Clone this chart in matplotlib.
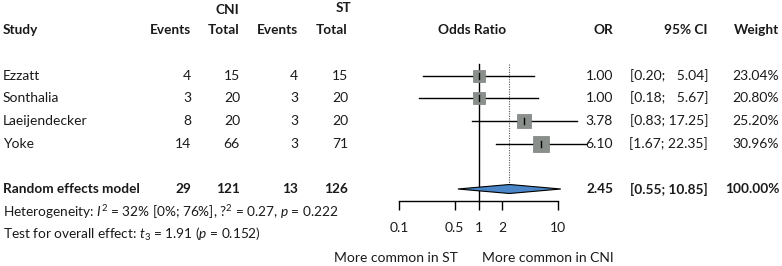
import numpy as np
import matplotlib
matplotlib.use('Agg')
import matplotlib.pyplot as plt

plt.rcParams['font.family'] = ['Lato', 'DejaVu Sans']
plt.rcParams['mathtext.fontset'] = 'custom'
plt.rcParams['mathtext.rm'] = 'Lato'
plt.rcParams['mathtext.it'] = 'Lato:italic'
plt.rcParams['text.color'] = '#1a1a1a'

# data
studies = ['Ezzatt', 'Sonthalia', 'Laeijendecker', 'Yoke']
cni_events = [4, 3, 8, 14]
cni_total = [15, 20, 20, 66]
st_events = [4, 3, 3, 3]
st_total = [15, 20, 20, 71]
odds = [1.00, 1.00, 3.78, 6.10]
ci_low = [0.20, 0.18, 0.83, 1.67]
ci_high = [5.04, 5.67, 17.25, 22.35]
weights = [23.04, 20.80, 25.20, 30.96]

re_or, re_low, re_high = 2.45, 0.55, 10.85
re_cni_events, re_cni_total, re_st_events, re_st_total = 29, 121, 13, 126

ticks = [0.1, 0.5, 1, 2, 10]
tick_labels = ['0.1', '0.5', '1', '2', '10']

# layout (pixels)
W, H = 782, 266
row_y = [76, 98, 121, 144]
re_y = 189
axis_y = 200.7
fs = 10
fsb = 9.8

fig = plt.figure(figsize=(W / 100, H / 100), dpi=100)
tx = fig.add_axes([0, 0, 1, 1])
tx.set_xlim(0, W)
tx.set_ylim(H, 0)
tx.axis('off')

# forest axes
x0, x1 = 399, 558
ax = fig.add_axes([x0 / W, (H - axis_y) / H, (x1 - x0) / W, axis_y / H])
ax.set_xscale('log')
ax.set_xlim(0.1, 10)
ax.set_ylim(axis_y, 0)
ax.patch.set_alpha(0)
for s in ['left', 'top', 'right']:
    ax.spines[s].set_visible(False)
ax.spines['bottom'].set_linewidth(1.0)
ax.set_yticks([])
ax.set_xticks(ticks)
ax.set_xticklabels(tick_labels, fontsize=fs, color='#1a1a1a')
ax.minorticks_off()
ax.tick_params(axis='x', direction='out', length=6.5, width=1.0, pad=9)

ax.plot([1, 1], [64, axis_y], color='black', lw=1.0, clip_on=False)
ax.plot([re_or, re_or], [64, re_y], color='#555555', lw=0.8, ls=(0, (1, 1.2)), clip_on=False)

for i in range(len(studies)):
    y = row_y[i]
    ax.plot([ci_low[i], ci_high[i]], [y, y], color='black', lw=1.0, clip_on=False, zorder=2)
    side = 2.7 * np.sqrt(weights[i]) * 0.72
    ax.scatter([odds[i]], [y], marker='s', s=side ** 2, color='#8a8f8c', edgecolor='#7a7f7c',
               lw=0.5, zorder=3, clip_on=False)
    ax.plot([odds[i], odds[i]], [y - 3, y + 3], color='black', lw=1.0, zorder=4, clip_on=False)

ax.fill([re_low, re_or, re_high, re_or], [re_y, re_y - 4.5, re_y, re_y + 4.5],
        facecolor='#4a86c8', edgecolor='black', lw=0.8, zorder=5, clip_on=False)

# headers
bold = dict(fontsize=fsb, fontweight='bold', va='center')
tx.text(227, 10, 'CNI', ha='center', **bold)
tx.text(344, 8, 'ST', ha='center', **bold)
tx.text(3, 30, 'Study', ha='left', **bold)
tx.text(191, 30, 'Events', ha='right', **bold)
tx.text(240, 30, 'Total', ha='right', **bold)
tx.text(298, 30, 'Events', ha='right', **bold)
tx.text(348, 30, 'Total', ha='right', **bold)
tx.text(472, 30, 'Odds Ratio', ha='center', **bold)
tx.text(613, 30, 'OR', ha='right', **bold)
tx.text(708, 30, '95% CI', ha='right', **bold)
tx.text(779, 30, 'Weight', ha='right', **bold)

norm = dict(fontsize=fs, va='center')
for i in range(len(studies)):
    y = row_y[i]
    tx.text(3, y, studies[i], ha='left', **norm)
    tx.text(191, y, str(cni_events[i]), ha='right', **norm)
    tx.text(240, y, str(cni_total[i]), ha='right', **norm)
    tx.text(298, y, str(st_events[i]), ha='right', **norm)
    tx.text(348, y, str(st_total[i]), ha='right', **norm)
    tx.text(613, y, f'{odds[i]:.2f}', ha='right', **norm)
    tx.text(708, y, f'[{ci_low[i]:.2f}; {ci_high[i]:5.2f}]'.replace(';  ', '; \u2007'), ha='right', **norm)
    tx.text(779, y, f'{weights[i]:.2f}%', ha='right', **norm)

tx.text(3, re_y, 'Random effects model', ha='left', **bold)
tx.text(191, re_y, str(re_cni_events), ha='right', **bold)
tx.text(240, re_y, str(re_cni_total), ha='right', **bold)
tx.text(298, re_y, str(re_st_events), ha='right', **bold)
tx.text(348, re_y, str(re_st_total), ha='right', **bold)
tx.text(613, re_y, f'{re_or:.2f}', ha='right', **bold)
tx.text(708, re_y, f'[{re_low:.2f}; {re_high:.2f}]', ha='right', **bold)
tx.text(779, re_y, '100.00%', ha='right', **bold)

small = dict(fontsize=9.8, va='center', ha='left')
tx.text(3, 212, r'Heterogeneity: $I^2$ = 32% [0%; 76%], ?$^2$ = 0.27, $p$ = 0.222', **small)
tx.text(3, 234, r'Test for overall effect: $t_3$ = 1.91 ($p$ = 0.152)', **small)

tx.text(396, 258, 'More common in ST', ha='center', **norm)
tx.text(548, 258, 'More common in CNI', ha='center', **norm)

fig.savefig('out.png', dpi=100)
